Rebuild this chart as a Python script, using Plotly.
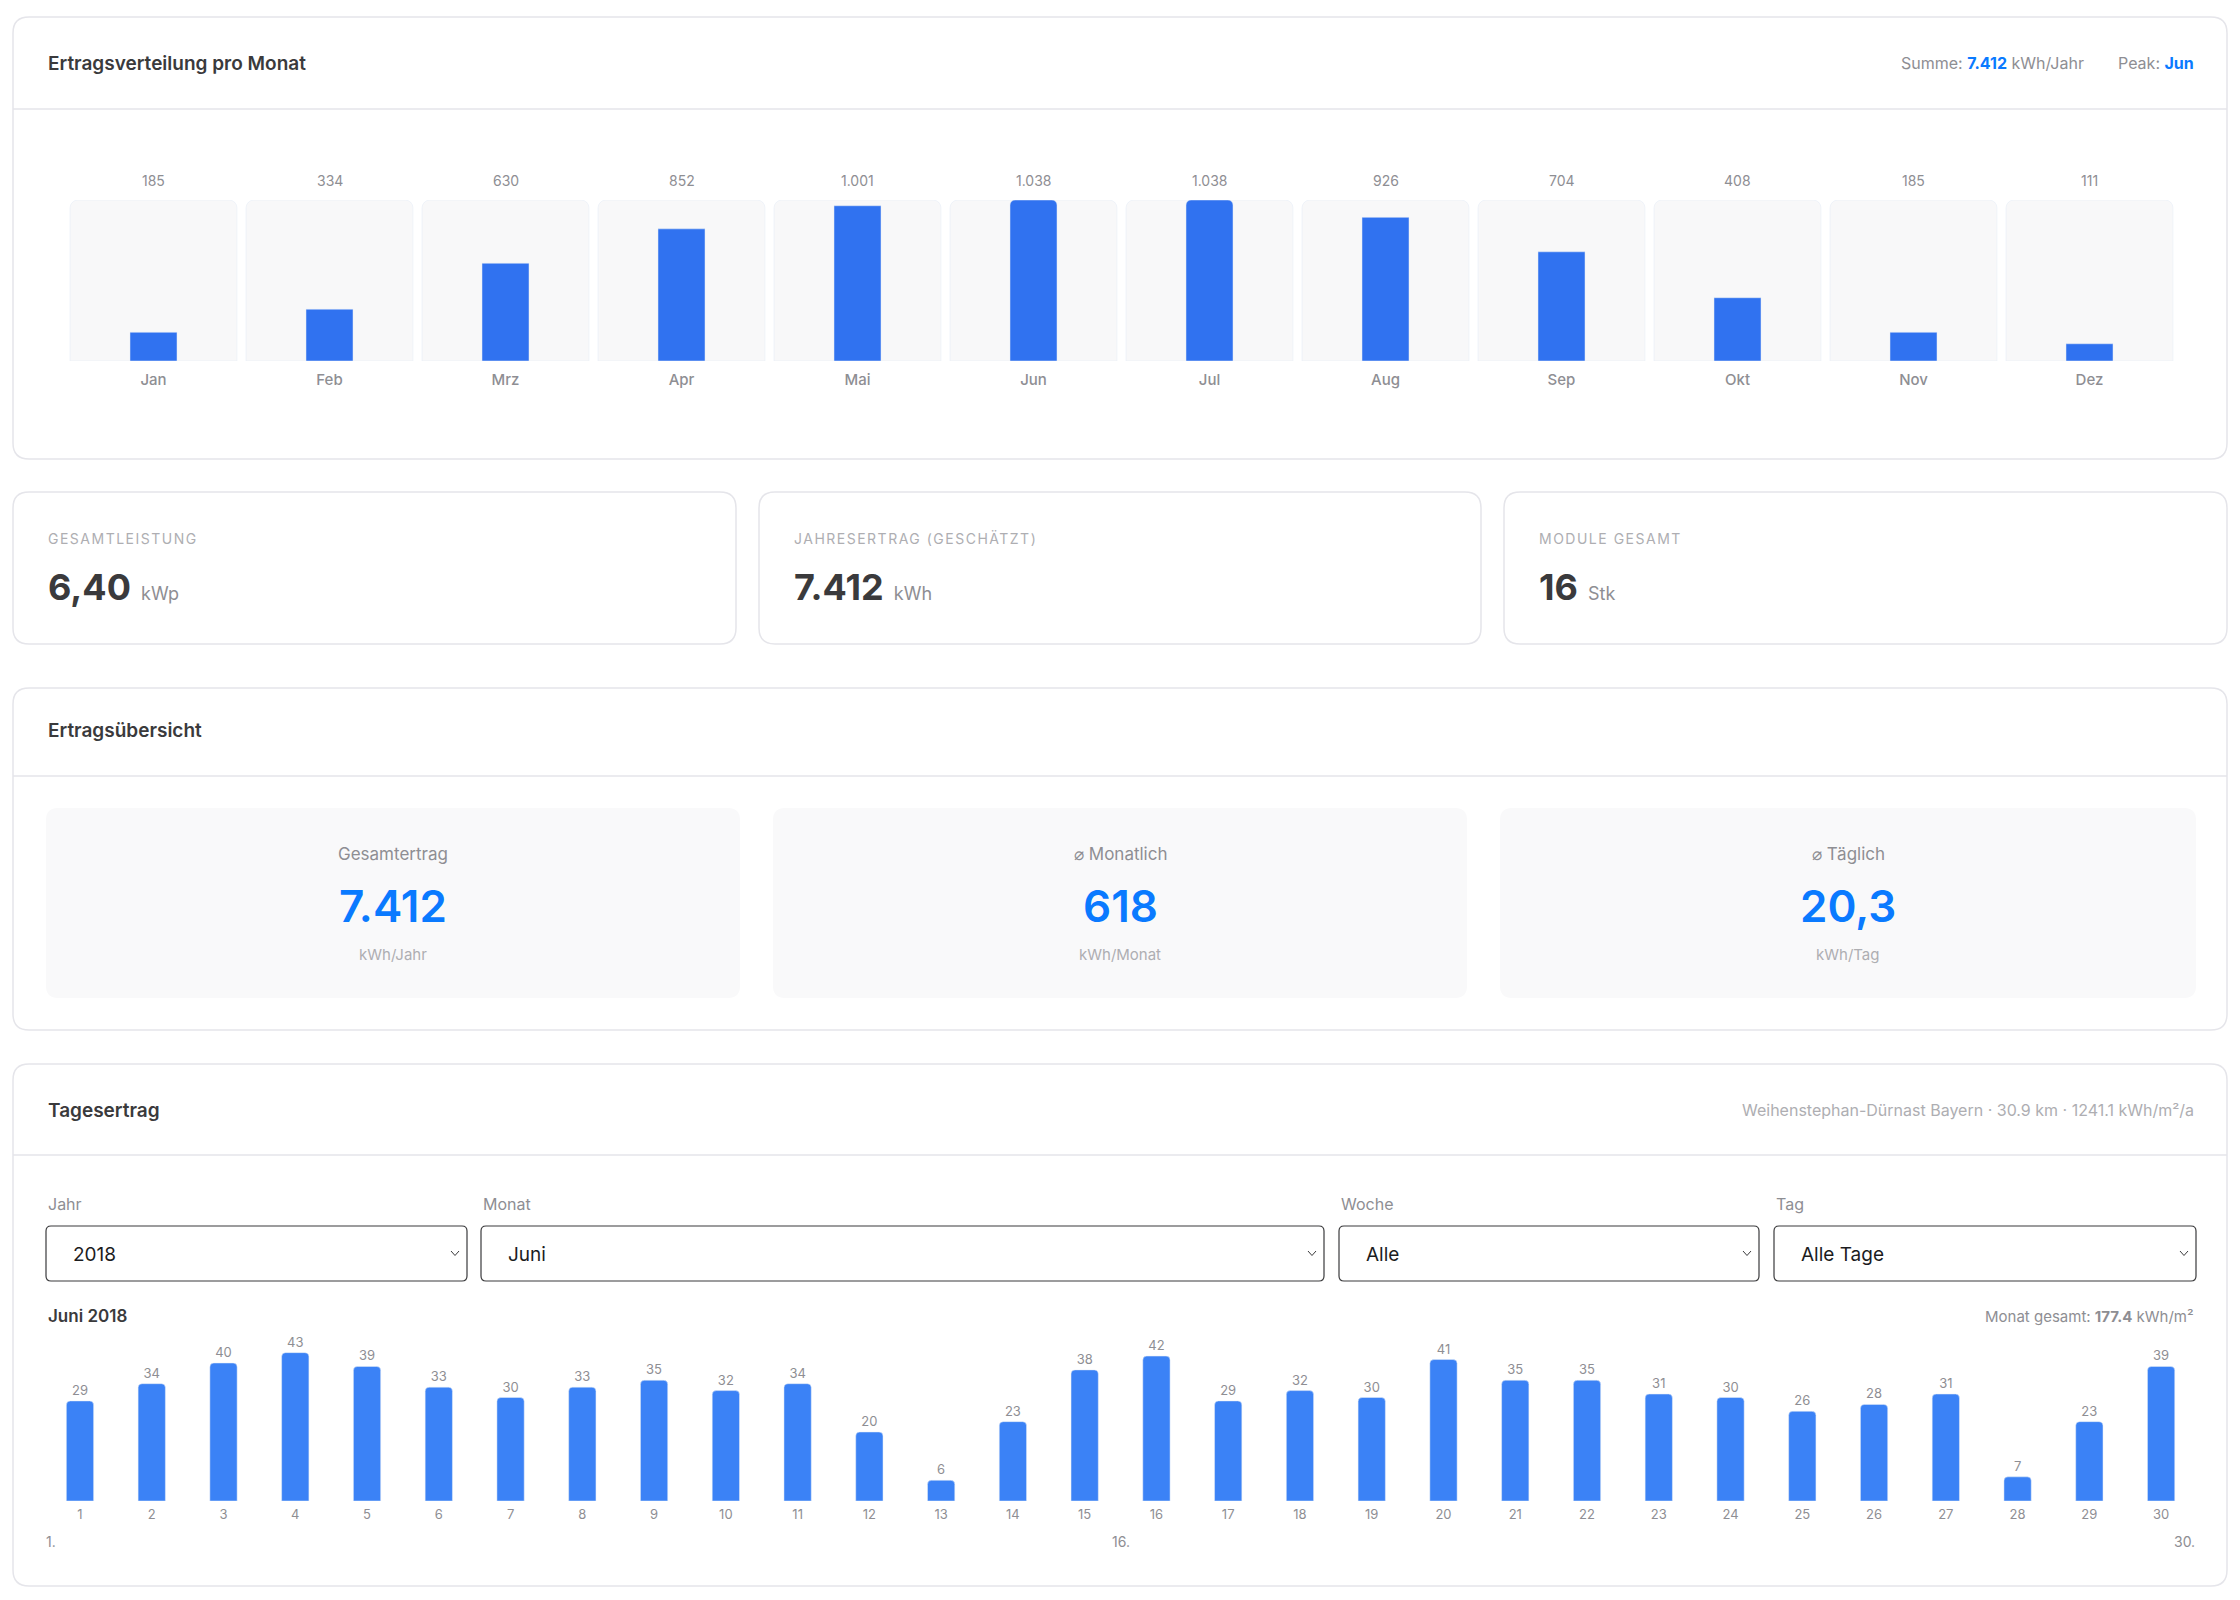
import plotly.graph_objects as go

W, H = 2240, 1600
OFF = 8  # page body margin of the html page
FW, FH = W - OFF, H - OFF
FONT = "Inter, Roboto, 'Noto Sans', sans-serif"
DARK = "#3a3a3c"
GRAY = "#8e8e93"
LIGHT = "#aeaeb2"
BLUE = "#0a7aff"
BORDER = "#e5e5ea"

# ---------------- data ----------------
months = ["Jan", "Feb", "Mrz", "Apr", "Mai", "Jun", "Jul", "Aug", "Sep", "Okt", "Nov", "Dez"]
monthly_kwh = [185, 334, 630, 852, 1001, 1038, 1038, 926, 704, 408, 185, 111]
monthly_labels = ["185", "334", "630", "852", "1.001", "1.038", "1.038", "926", "704", "408", "185", "111"]

days = list(range(1, 31))
daily_kwh = [29, 34, 40, 43, 39, 33, 30, 33, 35, 32, 34, 20, 6, 23, 38,
             42, 29, 32, 30, 41, 35, 35, 31, 30, 26, 28, 31, 7, 23, 39]

kpi_labels = ["GESAMTLEISTUNG", "JAHRESERTRAG (GESCHÄTZT)", "MODULE GESAMT"]
kpi_values = ["6,40", "7.412", "16"]
kpi_units = ["kWp", "kWh", "Stk"]

summary_labels = ["Gesamtertrag", "⌀ Monatlich", "⌀ Täglich"]
summary_values = ["7.412", "618", "20,3"]
summary_units = ["kWh/Jahr", "kWh/Monat", "kWh/Tag"]

filter_labels = ["Jahr", "Monat", "Woche", "Tag"]
filter_values = ["2018", "Juni", "Alle", "Alle Tage"]


# ---------------- helpers ----------------
def X(px):
    return (px - OFF) / FW


def Y(py):
    return 1 - (py - OFF) / FH


def rrect_path(x0, y0, x1, y1, r):
    def p(x, y):
        return f"{X(x):.6f},{Y(y):.6f}"
    return (f"M {p(x0 + r, y0)} L {p(x1 - r, y0)} Q {p(x1, y0)} {p(x1, y0 + r)} "
            f"L {p(x1, y1 - r)} Q {p(x1, y1)} {p(x1 - r, y1)} "
            f"L {p(x0 + r, y1)} Q {p(x0, y1)} {p(x0, y1 - r)} "
            f"L {p(x0, y0 + r)} Q {p(x0, y0)} {p(x0 + r, y0)} Z")


shapes = []
annotations = []


def rbox(x0, y0, x1, y1, r, fill, line=None, lw=1.5):
    shapes.append(dict(type="path", xref="paper", yref="paper", layer="below",
                       path=rrect_path(x0, y0, x1, y1, r), fillcolor=fill,
                       line=dict(color=line if line else "rgba(0,0,0,0)", width=lw if line else 0)))


def hline(x0, x1, y, color=BORDER, w=1.5):
    shapes.append(dict(type="line", xref="paper", yref="paper", layer="below",
                       x0=X(x0), x1=X(x1), y0=Y(y), y1=Y(y), line=dict(color=color, width=w)))


def text(x, y, s, size, color, anchor="left", weight=None, xref="paper"):
    f = dict(size=size, color=color, family=FONT)
    if weight:
        f["weight"] = weight
    annotations.append(dict(x=X(x) if xref == "paper" else x, y=Y(y), xref=xref, yref="paper",
                            text=s, showarrow=False, xanchor=anchor, yanchor="middle", font=f))


# ---------------- card 1: monthly ----------------
rbox(13, 17, 2227, 459, 16, "white", BORDER)
hline(13, 2227, 109)
text(46, 63, "Ertragsverteilung pro Monat", 19, DARK, weight=600)
text(2196, 63, f"Peak: <span style='color:{BLUE}'><b>Jun</b></span>", 16, GRAY, anchor="right")
text(2086, 63, f"Summe: <span style='color:{BLUE}'><b>7.412</b></span> kWh/Jahr", 16, GRAY, anchor="right")

for i, lab in enumerate(monthly_labels):
    text(i, 181, lab, 14, GRAY, anchor="center", xref="x")

# ---------------- KPI cards ----------------
kpi_x = [(13, 736), (759, 1481), (1504, 2227)]
for (x0, x1), lab, val, unit in zip(kpi_x, kpi_labels, kpi_values, kpi_units):
    rbox(x0, 492, x1, 644, 16, "white", BORDER)
    text(x0 + 33, 538, f"<span style='letter-spacing:1.5px'>{lab}</span>", 14, LIGHT)
    text(x0 + 33, 587,
         f"<b>{val}</b> <span style='font-size:18px;color:{GRAY}'>{unit}</span>", 36, DARK)

# ---------------- card 3: overview ----------------
rbox(13, 688, 2227, 1030, 16, "white", BORDER)
hline(13, 2227, 776)
text(46, 731, "Ertragsübersicht", 19, DARK, weight=600)
inner_x = [(46, 740), (773, 1467), (1500, 2196)]
for (x0, x1), lab, val, unit in zip(inner_x, summary_labels, summary_values, summary_units):
    rbox(x0, 808, x1, 998, 12, "#f9f9fa")
    cx = (x0 + x1) / 2
    text(cx, 854, lab, 17, GRAY, anchor="center")
    text(cx, 906, val, 44, BLUE, anchor="center", weight=600)
    text(cx, 954, unit, 15, LIGHT, anchor="center")

# ---------------- card 4: daily ----------------
rbox(13, 1064, 2227, 1586, 16, "white", BORDER)
hline(13, 2227, 1155)
text(46, 1110, "Tagesertrag", 19, DARK, weight=600)
text(2196, 1110, "Weihenstephan-Dürnast Bayern · 30.9 km · 1241.1 kWh/m²/a", 16, LIGHT, anchor="right")

dd_x = [(46, 467), (481, 1324), (1339, 1759), (1774, 2196)]
for (x0, x1), lab, val in zip(dd_x, filter_labels, filter_values):
    text(x0, 1204, lab, 16, GRAY)
    rbox(x0, 1226, x1, 1281, 5, "white", "#3a3a3c", 1.2)
    text(x0 + 25, 1254, val, 19, "#1c1c1e")
    cx, cy = x1 - 12, 1253
    shapes.append(dict(type="path", xref="paper", yref="paper", layer="above",
                       path=f"M {X(cx-4):.6f},{Y(cy-2):.6f} L {X(cx):.6f},{Y(cy+2.5):.6f} L {X(cx+4):.6f},{Y(cy-2):.6f}",
                       line=dict(color="#3a3a3c", width=1)))

text(46, 1316, "Juni 2018", 17, DARK, weight=600)
text(2196, 1316, "Monat gesamt: <b>177.4</b> kWh/m²", 15, GRAY, anchor="right")

for xd, lab, anc in [(0, "1.", "left"), (0.5, "16.", "center"), (1, "30.", "right")]:
    annotations.append(dict(x=xd, y=Y(1541), xref="x2 domain", yref="paper", text=lab, showarrow=False,
                            xanchor=anc, yanchor="middle", font=dict(size=14, color=GRAY, family=FONT)))

# ---------------- traces ----------------
fig = go.Figure()
mmax = max(monthly_kwh)
fig.add_trace(go.Bar(x=months, y=[mmax] * len(months), width=0.949, marker=dict(color="#f8f8f9", cornerradius=8),
                     hoverinfo="skip", xaxis="x", yaxis="y"))
fig.add_trace(go.Bar(x=months, y=monthly_kwh, width=0.267, marker=dict(color="#3072f0", cornerradius=5),
                     xaxis="x", yaxis="y", name="kWh"))

fig.add_trace(go.Bar(x=days, y=daily_kwh, width=0.38, marker=dict(color="#3b82f6", cornerradius=4),
                     text=[str(v) for v in daily_kwh], textposition="outside", constraintext="none",
                     textfont=dict(size=13, color=GRAY, family=FONT), cliponaxis=False,
                     xaxis="x2", yaxis="y2", name="Tag"))

fig.update_layout(
    width=FW, height=FH, margin=dict(l=0, r=0, t=0, b=0),
    paper_bgcolor="white", plot_bgcolor="rgba(0,0,0,0)",
    showlegend=False, barmode="overlay",
    font=dict(family=FONT),
    shapes=shapes, annotations=annotations,
    xaxis=dict(domain=[X(65.5), X(2177.5)], range=[-0.5, 11.5], type="category",
               showgrid=False, zeroline=False, showline=False, ticks="",
               ticklabelstandoff=8, tickfont=dict(size=15, color=GRAY, family=FONT, weight=500),
               anchor="y", fixedrange=True),
    yaxis=dict(domain=[Y(361), Y(200)], range=[0, mmax], visible=False, anchor="x", fixedrange=True),
    xaxis2=dict(domain=[X(44.1), X(2197)], range=[0.5, 30.5], tickmode="array",
                tickvals=days, ticktext=[str(d) for d in days],
                showgrid=False, zeroline=False, showline=False, ticks="",
                ticklabelstandoff=4, tickfont=dict(size=13, color=GRAY, family=FONT),
                anchor="y2", fixedrange=True),
    yaxis2=dict(domain=[Y(1501), Y(1328.5)], range=[0, 50], visible=False, anchor="x2", fixedrange=True),
)

fig.write_html("out.html")
